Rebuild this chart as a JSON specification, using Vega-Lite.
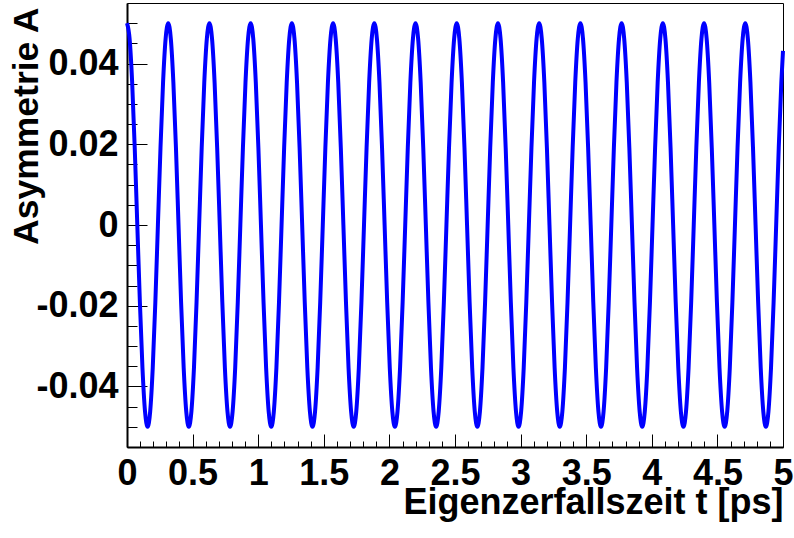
{
 "$schema": "https://vega.github.io/schema/vega-lite/v6.json",
 "width": 656, "height": 444,
 "autosize": {"type": "none"},
 "padding": {"left": 127, "top": 3, "right": 11, "bottom": 91},
 "background": "white",
 "config": {
  "view": {"stroke": "black", "strokeWidth": 1},
  "axis": {"grid": false, "labelFont": "Liberation Sans", "labelFontWeight": "bold", "labelFontSize": 36, "labelColor": "black", "titleFont": "Liberation Sans", "titleFontWeight": "bold", "titleFontSize": 36, "titleColor": "black", "domainColor": "black", "tickColor": "black", "tickWidth": 1, "labelFlush": false, "labelOverlap": false, "labelBound": false}
 },
 "data": {"values": [
{"t":0,"a":0.05},{"t":0.0196,"a":0.046194},{"t":0.0393,"a":0.035355},{"t":0.0589,"a":0.019134},{"t":0.0785,"a":0},{"t":0.0982,"a":-0.019134},{"t":0.1178,"a":-0.035355},{"t":0.1374,"a":-0.046194},{"t":0.1571,"a":-0.05},{"t":0.1767,"a":-0.046194},{"t":0.1963,"a":-0.035355},{"t":0.2160,"a":-0.019134},{"t":0.2356,"a":0},{"t":0.2553,"a":0.019134},{"t":0.2749,"a":0.035355},{"t":0.2945,"a":0.046194},
{"t":0.3142,"a":0.05},{"t":0.3338,"a":0.046194},{"t":0.3534,"a":0.035355},{"t":0.3731,"a":0.019134},{"t":0.3927,"a":0},{"t":0.4123,"a":-0.019134},{"t":0.4320,"a":-0.035355},{"t":0.4516,"a":-0.046194},{"t":0.4712,"a":-0.05},{"t":0.4909,"a":-0.046194},{"t":0.5105,"a":-0.035355},{"t":0.5301,"a":-0.019134},{"t":0.5498,"a":0},{"t":0.5694,"a":0.019134},{"t":0.5890,"a":0.035355},{"t":0.6087,"a":0.046194},
{"t":0.6283,"a":0.05},{"t":0.6480,"a":0.046194},{"t":0.6676,"a":0.035355},{"t":0.6872,"a":0.019134},{"t":0.7069,"a":0},{"t":0.7265,"a":-0.019134},{"t":0.7461,"a":-0.035355},{"t":0.7658,"a":-0.046194},{"t":0.7854,"a":-0.05},{"t":0.8050,"a":-0.046194},{"t":0.8247,"a":-0.035355},{"t":0.8443,"a":-0.019134},{"t":0.8639,"a":0},{"t":0.8836,"a":0.019134},{"t":0.9032,"a":0.035355},{"t":0.9228,"a":0.046194},
{"t":0.9425,"a":0.05},{"t":0.9621,"a":0.046194},{"t":0.9817,"a":0.035355},{"t":1.0014,"a":0.019134},{"t":1.0210,"a":0},{"t":1.0407,"a":-0.019134},{"t":1.0603,"a":-0.035355},{"t":1.0799,"a":-0.046194},{"t":1.0996,"a":-0.05},{"t":1.1192,"a":-0.046194},{"t":1.1388,"a":-0.035355},{"t":1.1585,"a":-0.019134},{"t":1.1781,"a":0},{"t":1.1977,"a":0.019134},{"t":1.2174,"a":0.035355},{"t":1.2370,"a":0.046194},
{"t":1.2566,"a":0.05},{"t":1.2763,"a":0.046194},{"t":1.2959,"a":0.035355},{"t":1.3155,"a":0.019134},{"t":1.3352,"a":0},{"t":1.3548,"a":-0.019134},{"t":1.3744,"a":-0.035355},{"t":1.3941,"a":-0.046194},{"t":1.4137,"a":-0.05},{"t":1.4334,"a":-0.046194},{"t":1.4530,"a":-0.035355},{"t":1.4726,"a":-0.019134},{"t":1.4923,"a":0},{"t":1.5119,"a":0.019134},{"t":1.5315,"a":0.035355},{"t":1.5512,"a":0.046194},
{"t":1.5708,"a":0.05},{"t":1.5904,"a":0.046194},{"t":1.6101,"a":0.035355},{"t":1.6297,"a":0.019134},{"t":1.6493,"a":0},{"t":1.6690,"a":-0.019134},{"t":1.6886,"a":-0.035355},{"t":1.7082,"a":-0.046194},{"t":1.7279,"a":-0.05},{"t":1.7475,"a":-0.046194},{"t":1.7671,"a":-0.035355},{"t":1.7868,"a":-0.019134},{"t":1.8064,"a":0},{"t":1.8261,"a":0.019134},{"t":1.8457,"a":0.035355},{"t":1.8653,"a":0.046194},
{"t":1.8850,"a":0.05},{"t":1.9046,"a":0.046194},{"t":1.9242,"a":0.035355},{"t":1.9439,"a":0.019134},{"t":1.9635,"a":0},{"t":1.9831,"a":-0.019134},{"t":2.0028,"a":-0.035355},{"t":2.0224,"a":-0.046194},{"t":2.0420,"a":-0.05},{"t":2.0617,"a":-0.046194},{"t":2.0813,"a":-0.035355},{"t":2.1009,"a":-0.019134},{"t":2.1206,"a":0},{"t":2.1402,"a":0.019134},{"t":2.1598,"a":0.035355},{"t":2.1795,"a":0.046194},
{"t":2.1991,"a":0.05},{"t":2.2188,"a":0.046194},{"t":2.2384,"a":0.035355},{"t":2.2580,"a":0.019134},{"t":2.2777,"a":0},{"t":2.2973,"a":-0.019134},{"t":2.3169,"a":-0.035355},{"t":2.3366,"a":-0.046194},{"t":2.3562,"a":-0.05},{"t":2.3758,"a":-0.046194},{"t":2.3955,"a":-0.035355},{"t":2.4151,"a":-0.019134},{"t":2.4347,"a":0},{"t":2.4544,"a":0.019134},{"t":2.4740,"a":0.035355},{"t":2.4936,"a":0.046194},
{"t":2.5133,"a":0.05},{"t":2.5329,"a":0.046194},{"t":2.5525,"a":0.035355},{"t":2.5722,"a":0.019134},{"t":2.5918,"a":0},{"t":2.6114,"a":-0.019134},{"t":2.6311,"a":-0.035355},{"t":2.6507,"a":-0.046194},{"t":2.6704,"a":-0.05},{"t":2.6900,"a":-0.046194},{"t":2.7096,"a":-0.035355},{"t":2.7293,"a":-0.019134},{"t":2.7489,"a":0},{"t":2.7685,"a":0.019134},{"t":2.7882,"a":0.035355},{"t":2.8078,"a":0.046194},
{"t":2.8274,"a":0.05},{"t":2.8471,"a":0.046194},{"t":2.8667,"a":0.035355},{"t":2.8863,"a":0.019134},{"t":2.9060,"a":0},{"t":2.9256,"a":-0.019134},{"t":2.9452,"a":-0.035355},{"t":2.9649,"a":-0.046194},{"t":2.9845,"a":-0.05},{"t":3.0041,"a":-0.046194},{"t":3.0238,"a":-0.035355},{"t":3.0434,"a":-0.019134},{"t":3.0631,"a":0},{"t":3.0827,"a":0.019134},{"t":3.1023,"a":0.035355},{"t":3.1220,"a":0.046194},
{"t":3.1416,"a":0.05},{"t":3.1612,"a":0.046194},{"t":3.1809,"a":0.035355},{"t":3.2005,"a":0.019134},{"t":3.2201,"a":0},{"t":3.2398,"a":-0.019134},{"t":3.2594,"a":-0.035355},{"t":3.2790,"a":-0.046194},{"t":3.2987,"a":-0.05},{"t":3.3183,"a":-0.046194},{"t":3.3379,"a":-0.035355},{"t":3.3576,"a":-0.019134},{"t":3.3772,"a":0},{"t":3.3968,"a":0.019134},{"t":3.4165,"a":0.035355},{"t":3.4361,"a":0.046194},
{"t":3.4558,"a":0.05},{"t":3.4754,"a":0.046194},{"t":3.4950,"a":0.035355},{"t":3.5147,"a":0.019134},{"t":3.5343,"a":0},{"t":3.5539,"a":-0.019134},{"t":3.5736,"a":-0.035355},{"t":3.5932,"a":-0.046194},{"t":3.6128,"a":-0.05},{"t":3.6325,"a":-0.046194},{"t":3.6521,"a":-0.035355},{"t":3.6717,"a":-0.019134},{"t":3.6914,"a":0},{"t":3.7110,"a":0.019134},{"t":3.7306,"a":0.035355},{"t":3.7503,"a":0.046194},
{"t":3.7699,"a":0.05},{"t":3.7895,"a":0.046194},{"t":3.8092,"a":0.035355},{"t":3.8288,"a":0.019134},{"t":3.8485,"a":0},{"t":3.8681,"a":-0.019134},{"t":3.8877,"a":-0.035355},{"t":3.9074,"a":-0.046194},{"t":3.9270,"a":-0.05},{"t":3.9466,"a":-0.046194},{"t":3.9663,"a":-0.035355},{"t":3.9859,"a":-0.019134},{"t":4.0055,"a":0},{"t":4.0252,"a":0.019134},{"t":4.0448,"a":0.035355},{"t":4.0644,"a":0.046194},
{"t":4.0841,"a":0.05},{"t":4.1037,"a":0.046194},{"t":4.1233,"a":0.035355},{"t":4.1430,"a":0.019134},{"t":4.1626,"a":0},{"t":4.1822,"a":-0.019134},{"t":4.2019,"a":-0.035355},{"t":4.2215,"a":-0.046194},{"t":4.2412,"a":-0.05},{"t":4.2608,"a":-0.046194},{"t":4.2804,"a":-0.035355},{"t":4.3001,"a":-0.019134},{"t":4.3197,"a":0},{"t":4.3393,"a":0.019134},{"t":4.3590,"a":0.035355},{"t":4.3786,"a":0.046194},
{"t":4.3982,"a":0.05},{"t":4.4179,"a":0.046194},{"t":4.4375,"a":0.035355},{"t":4.4571,"a":0.019134},{"t":4.4768,"a":0},{"t":4.4964,"a":-0.019134},{"t":4.5160,"a":-0.035355},{"t":4.5357,"a":-0.046194},{"t":4.5553,"a":-0.05},{"t":4.5749,"a":-0.046194},{"t":4.5946,"a":-0.035355},{"t":4.6142,"a":-0.019134},{"t":4.6338,"a":0},{"t":4.6535,"a":0.019134},{"t":4.6731,"a":0.035355},{"t":4.6928,"a":0.046194},
{"t":4.7124,"a":0.05},{"t":4.7320,"a":0.046194},{"t":4.7517,"a":0.035355},{"t":4.7713,"a":0.019134},{"t":4.7909,"a":0},{"t":4.8106,"a":-0.019134},{"t":4.8302,"a":-0.035355},{"t":4.8498,"a":-0.046194},{"t":4.8695,"a":-0.05},{"t":4.8891,"a":-0.046194},{"t":4.9087,"a":-0.035355},{"t":4.9284,"a":-0.019134},{"t":4.9480,"a":0},{"t":4.9676,"a":0.019134},{"t":4.9873,"a":0.035355},{"t":5,"a":0.043116}
 ]},
 "layer": [
  {
   "mark": {"type": "line", "opacity": 0},
   "encoding": {
    "x": {"field": "t", "type": "quantitative", "scale": {"domain": [0, 5], "nice": false, "zero": false},
     "axis": {"orient": "bottom", "values": [0.1,0.2,0.3,0.4,0.6,0.7,0.8,0.9,1.1,1.2,1.3,1.4,1.6,1.7,1.8,1.9,2.1,2.2,2.3,2.4,2.6,2.7,2.8,2.9,3.1,3.2,3.3,3.4,3.6,3.7,3.8,3.9,4.1,4.2,4.3,4.4,4.6,4.7,4.8,4.9], "tickSize": -6, "labels": false, "domain": false, "title": null}},
    "y": {"field": "a", "type": "quantitative", "scale": {"domain": [-0.055, 0.055], "nice": false, "zero": false},
     "axis": {"orient": "left", "values": [-0.05,-0.045,-0.035,-0.03,-0.025,-0.015,-0.01,-0.005,0.005,0.01,0.015,0.025,0.03,0.035,0.045,0.05], "tickSize": -10, "labels": false, "domain": false, "title": null}}
   }
  },
  {
   "mark": {"type": "line", "opacity": 0},
   "encoding": {
    "x": {"field": "t", "type": "quantitative",
     "axis": {"orient": "bottom", "values": [0,0.5,1,1.5,2,2.5,3,3.5,4,4.5,5], "tickSize": -13, "labels": false, "domain": false, "title": null}},
    "y": {"field": "a", "type": "quantitative",
     "axis": {"orient": "left", "values": [-0.04,-0.02,0,0.02,0.04], "tickSize": -20, "labels": false, "domain": false, "title": null}}
   }
  },
  {
   "mark": {"type": "line", "interpolate": "monotone", "color": "#0000ff", "strokeWidth": 4},
   "encoding": {
    "x": {"field": "t", "type": "quantitative",
     "axis": {"orient": "bottom", "values": [0,0.5,1,1.5,2,2.5,3,3.5,4,4.5,5], "labelExpr": "'' + datum.value", "ticks": false, "domainWidth": 2, "labelPadding": 9,
      "title": "Eigenzerfallszeit t [ps]", "titleX": 656, "titleY": 66, "titleAlign": "right", "titleBaseline": "alphabetic", "titleAngle": 0}},
    "y": {"field": "a", "type": "quantitative",
     "axis": {"orient": "left", "values": [-0.04,-0.02,0,0.02,0.04], "labelExpr": "'' + datum.value", "ticks": false, "domainWidth": 2, "labelPadding": 9,
      "title": "Asymmetrie A", "titleX": -90, "titleY": 4, "titleAlign": "right", "titleBaseline": "alphabetic", "titleAngle": -90, "titleFontSize": 35.5}}
   }
  }
 ],
 "resolve": {"axis": {"x": "independent", "y": "independent"}}
}
